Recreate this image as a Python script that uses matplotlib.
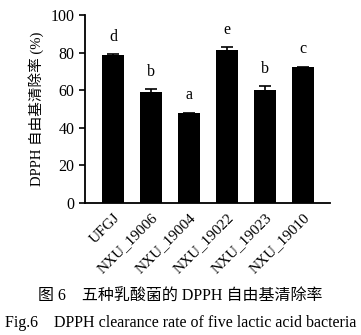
import matplotlib.pyplot as plt
import numpy as np

strains = ['UFGJ', 'NXU_19006', 'NXU_19004', 'NXU_19022', 'NXU_19023', 'NXU_19010']
clearance = [78.7, 58.9, 47.7, 81.4, 60.1, 72.3]
errors = [0.3, 1.5, 0.3, 1.4, 2.0, 0.3]
letters = ['d', 'b', 'a', 'e', 'b', 'c']

plt.rcParams['font.family'] = ['Liberation Serif', 'Noto Sans CJK SC']

fig = plt.figure(figsize=(3.61, 3.35), dpi=100)
ax = fig.add_axes([85 / 361, 1 - 203 / 335, 245 / 361, 188 / 335])

x = np.arange(len(strains))
ax.bar(x, clearance, width=0.58, color='black', yerr=errors,
       error_kw=dict(ecolor='black', elinewidth=1.2, capsize=4, capthick=1.2))
for xi, v, e, s in zip(x, clearance, errors, letters):
    ax.text(xi, v + e + 5, s, ha='center', va='bottom', fontsize=11.5)

ax.set_xlim(-0.74, 5.71)
ax.set_ylim(0, 100)
ax.set_yticks([0, 20, 40, 60, 80, 100])
ax.set_xticks(x)
ax.set_xticklabels(strains, rotation=45, ha='right', rotation_mode='anchor')
ax.tick_params(axis='x', length=0, pad=6, labelsize=11)
ax.tick_params(axis='y', length=4, width=1.2, labelsize=11.5)
for sp in ['top', 'right']:
    ax.spines[sp].set_visible(False)
for sp in ['left', 'bottom']:
    ax.spines[sp].set_linewidth(1.3)
ax.set_ylabel('DPPH 自由基清除率 (%)', fontsize=10.5, labelpad=5)

fig.text(0.5, 1 - 297 / 335, '图 6　五种乳酸菌的 DPPH 自由基清除率',
         ha='center', va='center', fontsize=11.5,
         family=['Liberation Serif', 'Noto Sans CJK SC'])
fig.text(0.5, 1 - 323 / 335, 'Fig.6　DPPH clearance rate of five lactic acid bacteria',
         ha='center', va='center', fontsize=11.5)

fig.savefig('out.png', dpi=100)
